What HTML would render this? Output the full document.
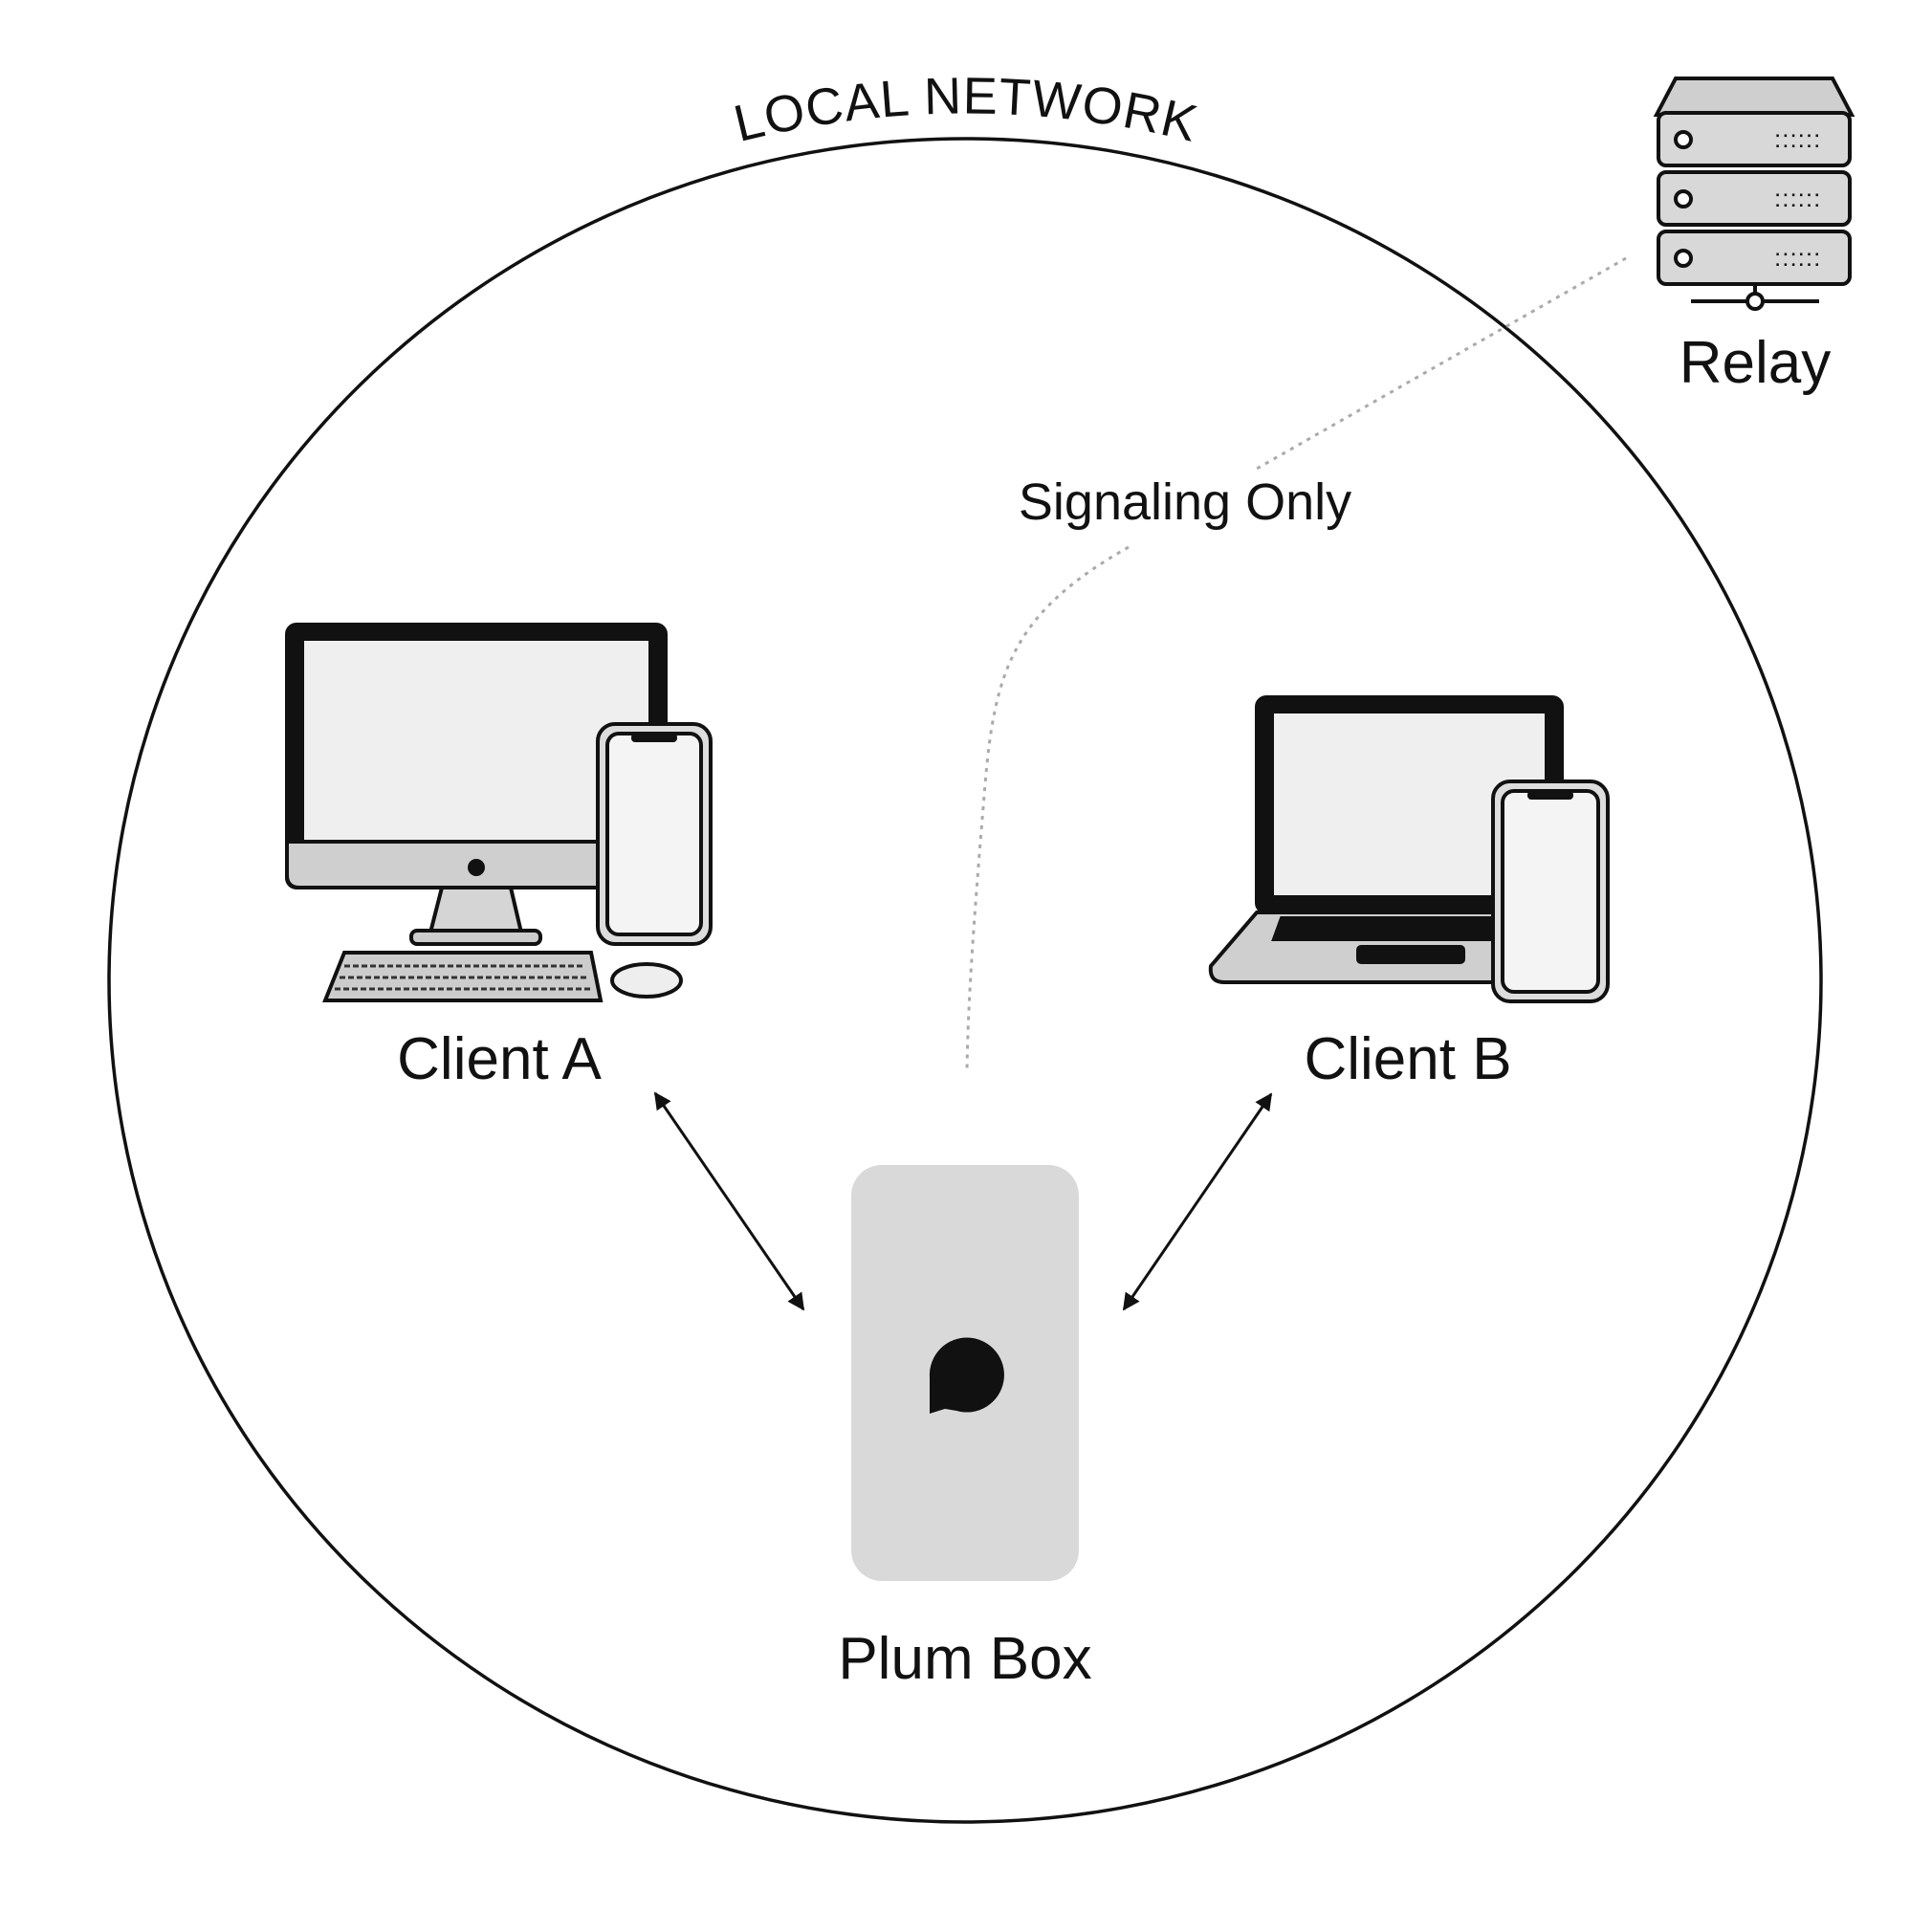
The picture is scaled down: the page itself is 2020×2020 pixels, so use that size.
<!DOCTYPE html>
<html><head><meta charset="utf-8"><style>
html,body{margin:0;padding:0;background:#fff;}
svg{display:block;}
text{font-family:"Liberation Sans",Arial,sans-serif;fill:#111;}
</style></head><body>
<svg width="2020" height="2020" viewBox="0 0 2020 2020" xmlns="http://www.w3.org/2000/svg">
<defs>
<marker id="ah" viewBox="0 0 10 10" refX="9" refY="5" markerWidth="6" markerHeight="6" orient="auto-start-reverse">
<path d="M0,0 L10,5 L0,10 z" fill="#111"/></marker>
<path id="arc" d="M 700 170 A 960 960 0 0 1 1320 170"/>
</defs>
<ellipse cx="1009" cy="1025" rx="895" ry="880" fill="none" stroke="#111" stroke-width="3.5"/>
<text font-size="54" letter-spacing="1"><textPath href="#arc" startOffset="50%" text-anchor="middle">LOCAL NETWORK</textPath></text>

<path d="M1700 270 L1314 490" stroke="#aaa" stroke-width="3" stroke-dasharray="4 6" fill="none"/>
<path d="M1180 572 C1060 640 1040 700 1030 820 C1020 940 1012 1040 1011 1121" stroke="#aaa" stroke-width="3" stroke-dasharray="4 6" fill="none"/>
<text x="1239" y="543" font-size="54" text-anchor="middle">Signaling Only</text>

<g stroke="#111" stroke-width="4" fill="#d8d8d8">
<path d="M1752 82 L1916 82 L1936 120 L1732 120 Z" fill="#cfcfcf"/>
<rect x="1734" y="118" width="200" height="55" rx="8"/>
<rect x="1734" y="180" width="200" height="55" rx="8"/>
<rect x="1734" y="242" width="200" height="55" rx="8"/>
<circle cx="1760" cy="146" r="8" fill="#fff"/>
<circle cx="1760" cy="208" r="8" fill="#fff"/>
<circle cx="1760" cy="270" r="8" fill="#fff"/>
<line x1="1835" y1="297" x2="1835" y2="315"/>
<line x1="1768" y1="315" x2="1902" y2="315"/>
<circle cx="1835" cy="315" r="8" fill="#fff"/>
</g>
<g fill="#333">
<text x="1855" y="154" font-size="26" letter-spacing="1">::::::</text>
<text x="1855" y="216" font-size="26" letter-spacing="1">::::::</text>
<text x="1855" y="278" font-size="26" letter-spacing="1">::::::</text>
</g>
<text x="1835" y="400" font-size="62" text-anchor="middle">Relay</text>

<g stroke="#111" stroke-width="4">
<rect x="300" y="653" width="396" height="275" rx="10" fill="#111"/>
<rect x="318" y="670" width="360" height="210" fill="#efefef" stroke="none"/>
<path d="M300 880 L696 880 L696 915 Q696 928 683 928 L313 928 Q300 928 300 915 Z" fill="#cfcfcf"/>
<circle cx="498" cy="907" r="7" fill="#111"/>
<path d="M462 928 L534 928 L545 975 L450 975 Z" fill="#d5d5d5"/>
<rect x="430" y="973" width="135" height="14" rx="6" fill="#ccc"/>
<path d="M360 996 L618 996 L628 1046 L340 1046 Z" fill="#ccc"/>
<ellipse cx="676" cy="1025" rx="36" ry="17" fill="#eee"/>
<rect x="625" y="757" width="118" height="230" rx="18" fill="#ddd"/>
<rect x="635" y="767" width="98" height="210" rx="12" fill="#f4f4f4"/>
</g>
<g stroke="#333" stroke-width="3" stroke-dasharray="6 3"><line x1="360" y1="1010" x2="610" y2="1010"/><line x1="355" y1="1022" x2="615" y2="1022"/><line x1="350" y1="1034" x2="620" y2="1034"/></g>
<rect x="660" y="767" width="48" height="9" rx="4" fill="#111"/>
<text x="522" y="1128" font-size="62" text-anchor="middle">Client A</text>

<g stroke="#111" stroke-width="4">
<rect x="1314" y="729" width="319" height="225" rx="10" fill="#111"/>
<rect x="1332" y="746" width="283" height="190" fill="#efefef" stroke="none"/>
<path d="M1314 954 L1633 954 L1660 1010 Q1660 1027 1645 1027 L1280 1027 Q1264 1027 1266 1010 Z" fill="#cfcfcf"/>
<path d="M1340 960 L1610 960 L1618 982 L1332 982 Z" fill="#111"/>
<rect x="1420" y="990" width="110" height="16" rx="3" fill="#111"/>
<rect x="1561" y="817" width="120" height="230" rx="18" fill="#ddd"/>
<rect x="1571" y="827" width="100" height="210" rx="12" fill="#f4f4f4"/>
</g>
<rect x="1597" y="827" width="48" height="9" rx="4" fill="#111"/>
<text x="1472" y="1128" font-size="62" text-anchor="middle">Client B</text>

<line x1="685" y1="1143" x2="840" y2="1369" stroke="#111" stroke-width="3" marker-start="url(#ah)" marker-end="url(#ah)"/>
<line x1="1329" y1="1144" x2="1175" y2="1369" stroke="#111" stroke-width="3" marker-start="url(#ah)" marker-end="url(#ah)"/>

<rect x="890" y="1218" width="238" height="435" rx="32" fill="#d9d9d9"/>
<path d="M972 1478 L972 1440 A39 39 0 1 1 1000 1475 L988 1473 Z" fill="#111"/>
<text x="1009" y="1755" font-size="62" text-anchor="middle">Plum Box</text>
</svg>
</body></html>
